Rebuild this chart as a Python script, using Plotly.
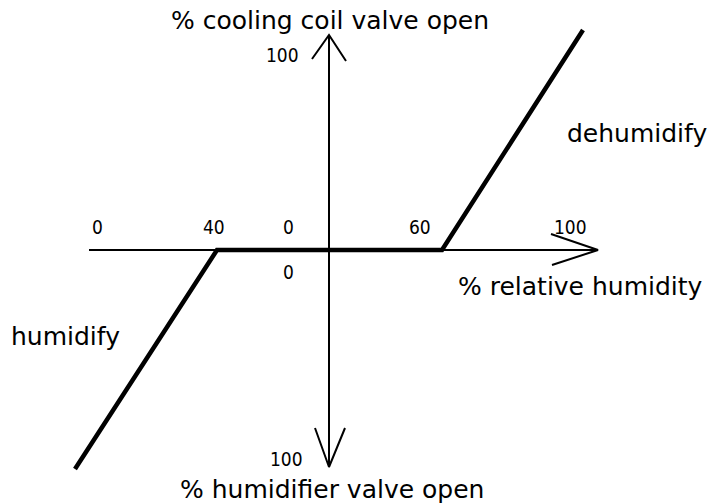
import plotly.graph_objects as go

# ---- data (diagram coordinates: origin where the two axes cross, 1 unit ~ 1 px) ----
rh_axis_x = [-240, 269]          # % relative humidity axis extent
valve_axis_y = [215, -217]       # cooling (up) / humidifier (down) axis extent

# control characteristic: humidify -> dead band 40..60 % -> dehumidify
control_x = [-254, -112, 113, 254]
control_y = [-219, 0, 0, 220]

rh_tick_labels = ["0", "40", "0", "60", "100"]
rh_tick_x = [-232, -115, -41, 91, 241]

valve_tick_labels = ["100", "0", "100"]
valve_tick_x = [-47, -41, -43]
valve_tick_y = [195, -22, -209]

# ---- style ----
FONT = "DejaVu Sans"
NUM_FONT = "DejaVu Sans Condensed, Liberation Sans Narrow, DejaVu Sans"
BLACK = "#000000"

fig = go.Figure()

# axes
fig.add_trace(go.Scatter(x=rh_axis_x, y=[0, 0], mode="lines",
                         line=dict(color=BLACK, width=2), hoverinfo="skip"))
fig.add_trace(go.Scatter(x=[0, 0], y=valve_axis_y, mode="lines",
                         line=dict(color=BLACK, width=2), hoverinfo="skip"))

# open arrow heads (computed from axis ends)
def head(tip_x, tip_y, dx, dy):
    return go.Scatter(x=[tip_x + dx[0], tip_x, tip_x + dx[1]],
                      y=[tip_y + dy[0], tip_y, tip_y + dy[1]],
                      mode="lines", line=dict(color=BLACK, width=2),
                      hoverinfo="skip")

fig.add_trace(head(rh_axis_x[1], 0, (-47, -46), (16, -15)))
fig.add_trace(head(0, valve_axis_y[0], (-17, 17), (-24, -26)))
fig.add_trace(head(0, valve_axis_y[1], (-14, 16), (39, 39)))

# control line
fig.add_trace(go.Scatter(x=control_x, y=control_y, mode="lines",
                         line=dict(color=BLACK, width=4.5), hoverinfo="skip"))

ann = []
for t, x in zip(rh_tick_labels, rh_tick_x):
    ann.append(dict(x=x, y=23, text=t, showarrow=False,
                    font=dict(family=NUM_FONT, size=19, color=BLACK)))
for t, x, y in zip(valve_tick_labels, valve_tick_x, valve_tick_y):
    ann.append(dict(x=x, y=y, text=t, showarrow=False,
                    font=dict(family=NUM_FONT, size=19, color=BLACK)))

titles = [
    ("% cooling coil valve open", 1, 230, "center"),
    ("% humidifier valve open", 3, -239, "center"),
    ("% relative humidity", 376, -36, "right"),
    ("dehumidify", 308, 117, "center"),
    ("humidify", -264, -86, "center"),
]
for t, x, y, xa in titles:
    ann.append(dict(x=x, y=y, text=t, showarrow=False, xanchor=xa,
                    font=dict(family=FONT, size=25, color=BLACK)))

fig.update_layout(
    width=714, height=504,
    margin=dict(l=0, r=0, t=0, b=0),
    paper_bgcolor="white", plot_bgcolor="white",
    showlegend=False,
    annotations=ann,
    xaxis=dict(range=[-329, 385], visible=False, fixedrange=True),
    yaxis=dict(range=[-254, 250], visible=False, fixedrange=True),
)

fig.write_html(
    "out.html",
    config={"displayModeBar": False},
    post_script="document.body.style.margin='0';document.body.style.overflow='hidden';",
)
